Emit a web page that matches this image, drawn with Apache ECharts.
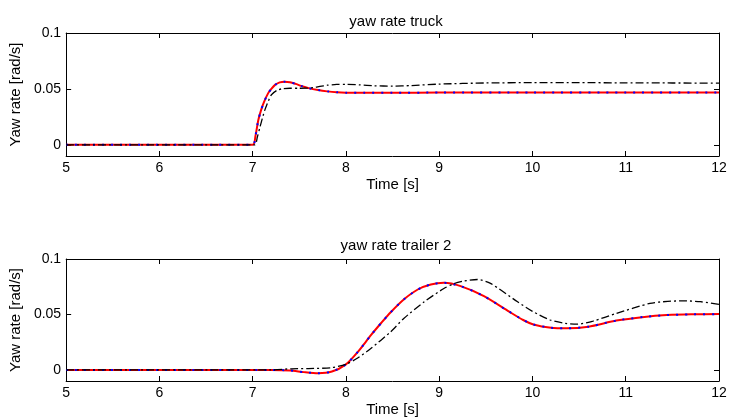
<!DOCTYPE html>
<html>
<head>
<meta charset="utf-8">
<script src="https://cdn.jsdelivr.net/npm/echarts@6/dist/echarts.min.js"></script>
<style>
html,body{margin:0;padding:0;background:#fff;}
#chart{width:730px;height:420px;}
</style>
</head>
<body>
<div id="chart"></div>
<script>
// ---- data ----
const titles = ['yaw rate truck', 'yaw rate trailer 2'];
const xTicks = [5, 6, 7, 8, 9, 10, 11, 12];
const yTicks = [0, 0.05, 0.1];

// truck: red / blue (overlapping) response
const truckT = [5, 7.0, 7.03, 7.06, 7.09, 7.12, 7.165, 7.2, 7.24, 7.29, 7.34, 7.4, 7.46, 7.52, 7.6, 7.7, 7.8, 7.9, 8.0, 8.2, 8.5, 9, 10, 11, 12];
const truckRed = [0, 0, 0.008, 0.022, 0.031, 0.038, 0.046, 0.050, 0.0536, 0.0558, 0.0565, 0.056, 0.0545, 0.0527, 0.0507, 0.049, 0.0478, 0.047, 0.0466, 0.0465, 0.0466, 0.0467, 0.0467, 0.0467, 0.0467];
const truckBlue = [0, 0, 0.008, 0.022, 0.031, 0.038, 0.046, 0.050, 0.0536, 0.0558, 0.0565, 0.056, 0.0545, 0.0527, 0.0507, 0.049, 0.0478, 0.047, 0.0466, 0.0465, 0.0466, 0.0467, 0.0467, 0.0467, 0.0467];
// truck: black dash-dot response
const truckBlackT = [5, 7.02, 7.05, 7.08, 7.13, 7.2, 7.26, 7.31, 7.4, 7.49, 7.58, 7.65, 7.72, 7.8, 7.9, 8.0, 8.15, 8.3, 8.5, 8.7, 9.0, 9.5, 10, 10.5, 11, 11.5, 12];
const truckBlack = [0, 0, 0.007, 0.0164, 0.031, 0.0446, 0.0487, 0.050, 0.0506, 0.0506, 0.0507, 0.0512, 0.0522, 0.0533, 0.054, 0.0541, 0.0536, 0.0528, 0.0525, 0.053, 0.0543, 0.0553, 0.0556, 0.0556, 0.0554, 0.0553, 0.0552];

// trailer 2: red / blue (overlapping) response
const trailerT = [5, 7.2, 7.4, 7.55, 7.7, 7.85, 8.0, 8.13, 8.27, 8.38, 8.48, 8.62, 8.77, 8.91, 9.05, 9.23, 9.48, 9.75, 9.9, 10.01, 10.2, 10.37, 10.6, 10.9, 11.2, 11.44, 11.7, 12];
const trailerRed = [0, 0, -0.0005, -0.002, -0.003, -0.0015, 0.005, 0.0165, 0.0315, 0.0425, 0.052, 0.0635, 0.0725, 0.077, 0.0785, 0.0755, 0.0665, 0.0525, 0.045, 0.041, 0.038, 0.0375, 0.039, 0.0445, 0.0478, 0.0494, 0.0501, 0.0503];
const trailerBlue = [0, 0, -0.0005, -0.002, -0.003, -0.0015, 0.005, 0.0165, 0.0315, 0.0425, 0.052, 0.0635, 0.0725, 0.077, 0.0785, 0.0755, 0.0665, 0.0525, 0.045, 0.041, 0.038, 0.0375, 0.039, 0.0445, 0.0478, 0.0494, 0.0501, 0.0503];
// trailer 2: black dash-dot response
const trailerBlackT = [5, 7.2, 7.41, 7.6, 7.84, 8.0, 8.13, 8.27, 8.48, 8.62, 8.84, 9.05, 9.16, 9.25, 9.41, 9.55, 9.84, 10.0, 10.19, 10.35, 10.48, 10.65, 10.9, 11.26, 11.45, 11.62, 11.8, 12];
const trailerBlack = [0, 0, 0.001, 0.0012, 0.002, 0.005, 0.011, 0.0195, 0.0344, 0.0464, 0.0614, 0.0734, 0.0779, 0.080, 0.0815, 0.078, 0.0614, 0.0528, 0.045, 0.042, 0.0413, 0.044, 0.051, 0.060, 0.0618, 0.0623, 0.0615, 0.0590];

// ---- chart ----
const FONT = '"Liberation Sans", Arial, sans-serif';
const zip = (t, v) => t.map((x, i) => [x, v[i]]);
const grids = [
  { left: 64, right: 11, top: 33, height: 123 },
  { left: 64, right: 11, top: 259, height: 122 }
];
const axLine = { show: true, onZero: false, lineStyle: { color: '#000', width: 1 } };
const tickIn = { show: true, inside: true, length: 5, lineStyle: { color: '#000', width: 1 } };
const xAxes = [], yAxes = [];
grids.forEach((g, i) => {
  xAxes.push({
    type: 'value', gridIndex: i, min: 5, max: 12, interval: 1, position: 'bottom',
    axisLine: axLine, axisTick: tickIn, splitLine: { show: false },
    axisLabel: { color: '#000', fontSize: 14, fontFamily: FONT, margin: 5,
      customValues: xTicks },
    name: 'Time [s]', nameLocation: 'middle', nameGap: 21,
    nameTextStyle: { color: '#000', fontSize: 15, fontFamily: FONT }
  });
  xAxes.push({
    type: 'value', gridIndex: i, min: 5, max: 12, interval: 1, position: 'top',
    axisLine: axLine, axisTick: tickIn, splitLine: { show: false },
    axisLabel: { show: false }
  });
  yAxes.push({
    type: 'value', gridIndex: i, min: -0.01, max: 0.1, position: 'left',
    axisLine: axLine,
    axisTick: Object.assign({}, tickIn, { customValues: yTicks }),
    splitLine: { show: false },
    axisLabel: { color: '#000', fontSize: 14, fontFamily: FONT, margin: 5,
      customValues: yTicks, formatter: v => String(+v.toFixed(3)) },
    name: 'Yaw rate [rad/s]', nameLocation: 'middle', nameGap: 33,
    nameTextStyle: { color: '#000', fontSize: 15, fontFamily: FONT }
  });
  yAxes.push({
    type: 'value', gridIndex: i, min: -0.01, max: 0.1, position: 'right',
    axisLine: axLine,
    axisTick: Object.assign({}, tickIn, { customValues: yTicks }),
    splitLine: { show: false },
    axisLabel: { show: false }
  });
});

function lineSeries(idx, data, color, width, type) {
  return {
    type: 'line', xAxisIndex: idx * 2, yAxisIndex: idx * 2, data: data,
    showSymbol: false, symbol: 'none', smooth: 0.25,
    lineStyle: { color: color, width: width, type: type },
    animation: false, silent: true
  };
}

const series = [
  lineSeries(0, zip(truckT, truckRed), '#ff0000', 2, 'solid'),
  lineSeries(0, zip(truckT, truckBlue), '#0000ff', 2, [2, 7]),
  lineSeries(0, zip(truckBlackT, truckBlack), '#000000', 1.3, [8, 3, 2, 3]),
  lineSeries(1, zip(trailerT, trailerRed), '#ff0000', 2, 'solid'),
  lineSeries(1, zip(trailerT, trailerBlue), '#0000ff', 2, [2, 7]),
  lineSeries(1, zip(trailerBlackT, trailerBlack), '#000000', 1.3, [8, 3, 2, 3])
];

const chart = echarts.init(document.getElementById('chart'), null, { renderer: 'canvas' });
chart.setOption({
  backgroundColor: '#fff',
  animation: false,
  title: [
    { text: titles[0], left: 391, textAlign: 'center', top: 9,
      textStyle: { color: '#000', fontSize: 15, fontWeight: 'normal', fontFamily: FONT } },
    { text: titles[1], left: 391, textAlign: 'center', top: 233,
      textStyle: { color: '#000', fontSize: 15, fontWeight: 'normal', fontFamily: FONT } }
  ],
  grid: grids,
  xAxis: xAxes,
  yAxis: yAxes,
  series: series
});
</script>
</body>
</html>
